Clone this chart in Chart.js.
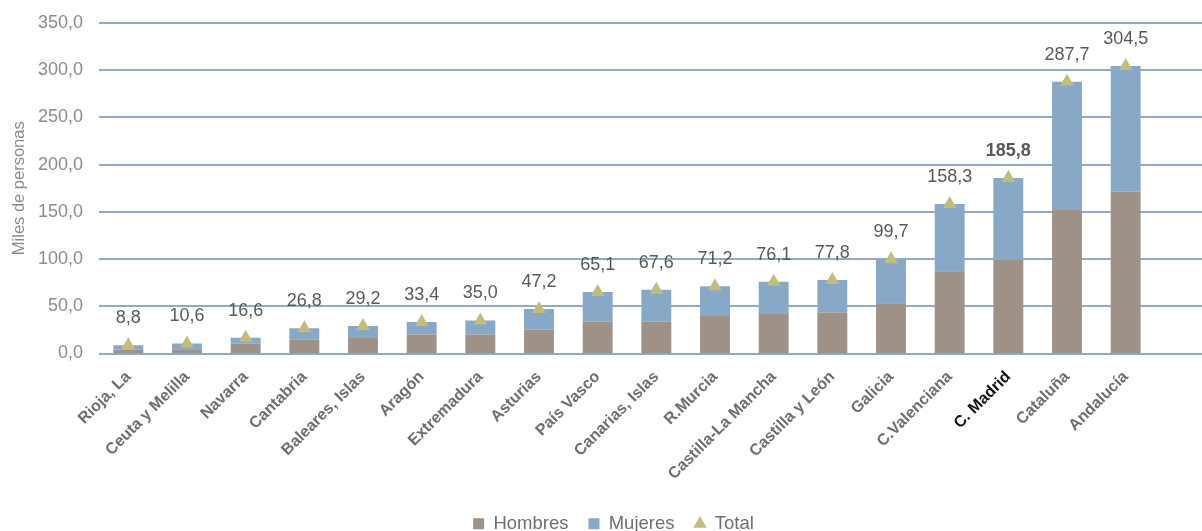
<!DOCTYPE html>
<html>
<head>
<meta charset="utf-8">
<script src="https://cdn.jsdelivr.net/npm/chart.js@4.4.1/dist/chart.umd.min.js"></script>
<style>
html,body{margin:0;padding:0;background:#fff;}
#wrap{width:1202px;height:531px;position:relative;}
</style>
</head>
<body>
<div id="wrap"><canvas id="c" width="1202" height="531"></canvas></div>
<script>
const categories = ["Rioja, La","Ceuta y Melilla","Navarra","Cantabria","Baleares, Islas","Aragón","Extremadura","Asturias","País Vasco","Canarias, Islas","R.Murcia","Castilla-La Mancha","Castilla y León","Galicia","C.Valenciana","C. Madrid","Cataluña","Andalucía"];
const totals  = [8.8,10.6,16.6,26.8,29.2,33.4,35.0,47.2,65.1,67.6,71.2,76.1,77.8,99.7,158.3,185.8,287.7,304.5];
const hombres = [4.2,4.5,10.3,14.5,16.3,20.2,20.2,25.4,33.6,33.6,39.6,41.7,43.5,53.3,87.0,99.0,152.0,171.5];
const mujeres = [4.6,6.1,6.3,12.3,12.9,13.2,14.8,21.8,31.5,34.0,31.6,34.4,34.3,46.4,71.3,86.8,135.7,133.0];
const yTicks = [0,50,100,150,200,250,300,350];
const highlightIndex = 15;

const fmt = v => v.toFixed(1).replace('.', ',');
const SANS = "'Liberation Sans',Arial,sans-serif";

const gridPlugin = {
  id: 'extGrid',
  beforeDatasetsDraw(chart) {
    const {ctx, chartArea, scales} = chart;
    const y = scales.y;
    ctx.save();
    ctx.strokeStyle = '#8eabc9';
    ctx.lineWidth = 2;
    yTicks.forEach(v => {
      const py = Math.round(y.getPixelForValue(v));
      ctx.beginPath();
      ctx.moveTo(chartArea.left, py);
      ctx.lineTo(chart.width, py);
      ctx.stroke();
    });
    ctx.restore();
  }
};

const labelPlugin = {
  id: 'totLabels',
  afterDatasetsDraw(chart) {
    const {ctx} = chart;
    const meta = chart.getDatasetMeta(2);
    ctx.save();
    ctx.textAlign = 'center';
    ctx.textBaseline = 'middle';
    ctx.fillStyle = '#595959';
    meta.data.forEach((pt, i) => {
      ctx.font = (i === highlightIndex ? 'bold ' : '') + '18px ' + SANS;
      ctx.fillText(fmt(totals[i]), pt.x, pt.y - 27);
    });
    ctx.restore();
  }
};

const legendShift = {
  id: 'legendShift',
  afterLayout(chart) {
    if (chart.legend) { chart.legend.left += 36; chart.legend.right += 36; }
  }
};

new Chart(document.getElementById('c'), {
  data: {
    labels: categories,
    datasets: [
      {type:'bar', label:'Hombres', data:hombres, backgroundColor:'#9e9188', stack:'s', order:2, barPercentage:0.51, categoryPercentage:1},
      {type:'bar', label:'Mujeres', data:mujeres, backgroundColor:'#87a8c6', stack:'s', order:2, barPercentage:0.51, categoryPercentage:1},
      {type:'line', label:'Total', data:totals, stack:'t', order:0, showLine:false, pointStyle:'triangle', pointRadius:8, pointHoverRadius:8, backgroundColor:'#c1bd7c', borderColor:'#c1bd7c', borderWidth:0}
    ]
  },
  options: {
    responsive:false,
    devicePixelRatio:1,
    animation:false,
    events:[],
    layout:{padding:{top:23,right:47,left:0,bottom:-12}},
    scales:{
      x:{
        stacked:true,
        grid:{display:false},
        border:{display:false},
        ticks:{
          minRotation:45, maxRotation:45, autoSkip:false, padding:6,
          color:ctx => ctx.index === highlightIndex ? '#111111' : '#6d6e71',
          font:{family:SANS, size:16, weight:'bold'}
        },
        afterFit(scale){ scale.height = 141; scale.paddingLeft = 0; scale.paddingRight = 0; }
      },
      y:{
        stacked:true, min:0, max:350,
        afterBuildTicks(scale){ scale.ticks = yTicks.map(v => ({value:v})); },
        grid:{display:false, drawTicks:false},
        border:{display:false},
        ticks:{padding:16, color:'#8c8c8c', font:{family:SANS, size:18}, callback:v => fmt(v)},
        title:{display:true, text:'Miles de personas', color:'#8c8c8c', font:{family:SANS, size:16.5}, padding:{top:10,bottom:4}},
        afterFit(scale){ scale.width = 99; scale.paddingTop = 0; scale.paddingBottom = 0; }
      }
    },
    plugins:{
      tooltip:{enabled:false},
      legend:{
        position:'bottom',
        labels:{
          usePointStyle:true, boxHeight:11, boxWidth:11, padding:20,
          color:'#6f6f6f', font:{family:SANS, size:18.5},
          generateLabels(chart){
            const items = Chart.defaults.plugins.legend.labels.generateLabels(chart);
            items.forEach(it => {
              const ds = chart.data.datasets[it.datasetIndex];
              it.pointStyle = ds.type === 'line' ? 'triangle' : 'rect';
              it.fillStyle = ds.backgroundColor; it.strokeStyle = ds.backgroundColor; it.lineWidth = 0;
            });
            items.sort((a, b) => a.datasetIndex - b.datasetIndex);
            return items;
          }
        }
      }
    }
  },
  plugins:[gridPlugin, labelPlugin, legendShift]
});
</script>
</body>
</html>
